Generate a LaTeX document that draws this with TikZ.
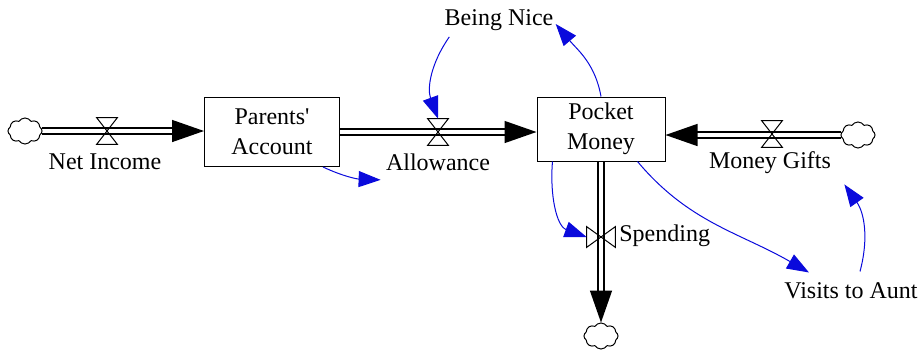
\documentclass[tikz,border=0pt]{standalone}
\usepackage{fontspec}
\setmainfont{Liberation Serif}
\usepackage{tikz}
\usetikzlibrary{arrows.meta,positioning,shapes.symbols,backgrounds}
\definecolor{cInfl}{RGB}{10,10,220}
\tikzset{
  stockbox/.style={rectangle,draw=black,line width=0.5pt,align=center,
                   inner sep=0pt,font=\rmfamily\fontsize{12}{15}\selectfont},
  cloudnode/.style={cloud,cloud puffs=8,cloud puff arc=115,aspect=1.4,
                    draw=black,line width=0.5pt,minimum width=17pt,
                    minimum height=13pt,inner sep=0pt},
  valvenode/.style={rectangle,inner sep=0pt,minimum width=10pt,
                    minimum height=13pt},
  hvalvenode/.style={rectangle,inner sep=0pt,minimum width=14pt,
                     minimum height=10pt},
  valveline/.style={draw=black,line width=0.5pt,line join=miter},
  lbl/.style={inner sep=1pt,font=\rmfamily\fontsize{12}{15}\selectfont},
  pipe/.style={draw=black,double=white,double distance=2.2pt,line width=0.7pt},
  flowarr/.style={pipe,-{Triangle[length=16pt,width=11pt]}},
  inflarr/.style={-{Triangle[length=11pt,width=8pt]},draw=cInfl,line width=0.5pt}
}
\begin{document}
\begin{tikzpicture}[x=0.5pt,y=-0.5pt]
  \useasboundingbox (0,0) rectangle (918,349);

  % stocks
  \node[stockbox,minimum width=67.5pt,minimum height=34.5pt] (pa) at (272,132)
      {Parents\textquotesingle\\Account};
  \node[stockbox,minimum width=64pt,minimum height=32pt] (pm) at (601,129)
      {Pocket\\Money};

  % sources and sinks
  \node[cloudnode] (cloudL) at (25,131) {};
  \node[cloudnode] (cloudR) at (858,135) {};
  \node[cloudnode] (cloudB) at (601,336) {};

  % valves
  \node[valvenode] (vNet) at (107,131) {};
  \node[valvenode] (vAllow) at (438,132) {};
  \node[valvenode] (vGifts) at (772,134) {};
  \node[hvalvenode] (vSpend) at (601,237) {};

  % labels
  \node[lbl] (lNet) at (105,162) {Net Income};
  \node[lbl] (lAllow) at (438,162) {Allowance};
  \node[lbl] (lGifts) at (770,163) {Money Gifts};
  \node[lbl,anchor=west] (lSpend) at (617,236) {Spending};
  \node[lbl] (lNice) at (499,20) {Being Nice};
  \node[lbl] (lAunt) at (851,291) {Visits to Aunt};

  % flows
  \begin{scope}[on background layer]
    \draw[flowarr] (cloudL.east) -- (cloudL.east -| pa.west);
    \draw[flowarr] (pa.east) -- (pa.east -| pm.west);
    \draw[flowarr] (cloudR.west) -- (cloudR.west -| pm.east);
    \draw[flowarr] (pm.south) -- (cloudB.north);
  \end{scope}

  \foreach \v in {vNet,vAllow,vGifts}
    \draw[valveline] (\v.north west) -- (\v.north east) -- (\v.south west)
      -- (\v.south east) -- cycle;
  \draw[valveline] (vSpend.north west) -- (vSpend.south west) -- (vSpend.north east)
    -- (vSpend.south east) -- cycle;

  % influences
  \draw[inflarr] ([xshift=3.5pt,yshift=-2pt]lNice.south west) to[out=235,in=110] (vAllow.north);
  \draw[inflarr] (pm.north) to[out=100,in=-50] ([yshift=-2pt]lNice.east);
  \draw[inflarr] ([xshift=8pt]pm.south west) to[out=-95,in=160] (vSpend.west);
  \draw[inflarr] ([xshift=-8.5pt]pa.south east) to[out=-25,in=178]
    ([xshift=-1.5pt,yshift=-3.5pt]lAllow.south west);
  \draw[inflarr] ([xshift=-14pt]pm.south east) to[out=-50,in=150]
    ([xshift=13.5pt,yshift=4pt]lAunt.north west);
  \draw[inflarr] ([xshift=4.5pt,yshift=4.5pt]lAunt.north) to[out=75,in=-55]
    ([xshift=5.5pt,yshift=-4pt]lGifts.south east);
\end{tikzpicture}
\end{document}
